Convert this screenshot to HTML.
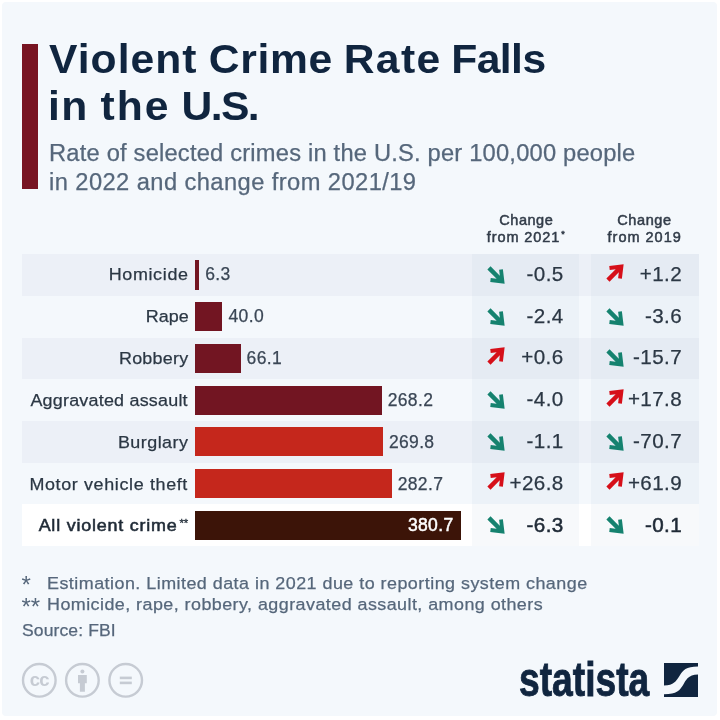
<!DOCTYPE html>
<html lang="en">
<head>
<meta charset="utf-8">
<title>Violent Crime Rate Falls in the U.S.</title>
<style>
html,body{margin:0;padding:0;background:#fff;}
body{width:720px;height:720px;position:relative;overflow:hidden;font-family:"Liberation Sans",sans-serif;}
#card{position:absolute;left:2px;top:2px;width:715px;height:714px;background:#f4f8fc;border-radius:4px;}
.abs{position:absolute;}
.t{position:absolute;white-space:nowrap;line-height:1;}
#accent{left:21.8px;top:44px;width:16.2px;height:145px;background:#781422;}
.title{font-weight:bold;color:#10253f;}
.sub{color:#56677b;-webkit-text-stroke:0.25px #56677b;}
.stripe{position:absolute;left:22px;width:677px;background:#ecf0f7;}
.white{background:#fff;}
.col{position:absolute;top:254.2px;height:291.9px;background:rgba(144,164,201,0.07);}
.hdr{color:#323c49;-webkit-text-stroke:0.5px #323c49;}
.sup{font-size:9px;position:relative;top:-5px;letter-spacing:0;margin-left:1px;}
.sup2{font-size:11px;position:relative;top:-4.5px;letter-spacing:0;margin-left:2px;-webkit-text-stroke:0.3px #1f2a36;}
.lbl{color:#2b3744;-webkit-text-stroke:0.25px #2b3744;}
.bar{position:absolute;left:194.7px;height:29.2px;}
.dk{background:#721522;}
.rd{background:#c5271c;}
.br{background:#3c1408;}
.val{color:#3a4655;-webkit-text-stroke:0.25px #3a4655;}
.chg{color:#2b3744;-webkit-text-stroke:0.25px #2b3744;}
.note{color:#56677b;-webkit-text-stroke:0.25px #56677b;}
.ar{position:absolute;overflow:visible;}
.b{color:#1f2a36;-webkit-text-stroke:0.55px #1f2a36;}
.b.w{color:#fff;-webkit-text-stroke:0.5px #fff;}
#logo{left:518.5px;top:656px;font-size:48px;font-weight:bold;color:#10253f;transform-origin:0 0;transform:scaleX(0.775);letter-spacing:0;-webkit-text-stroke:0.9px #10253f;}
</style>
</head>
<body>
<div id="card"></div>
<div id="accent" class="abs"></div>
<div class="stripe" style="top:254.20px;height:41.70px;"></div>
<div class="stripe" style="top:337.60px;height:41.70px;"></div>
<div class="stripe" style="top:421.00px;height:41.70px;"></div>
<div class="stripe white" style="top:504.40px;height:41.70px;"></div>
<div class="col" style="left:471.5px;width:107px;"></div>
<div class="col" style="left:590.5px;width:108.5px;"></div>
<div id="b1" class="bar dk" style="top:260.45px;width:4.5px;"></div>
<div id="b2" class="bar dk" style="top:302.15px;width:27.8px;"></div>
<div id="b3" class="bar dk" style="top:343.85px;width:45.9px;"></div>
<div id="b4" class="bar dk" style="top:385.55px;width:187px;"></div>
<div id="b5" class="bar rd" style="top:427.25px;width:188.2px;"></div>
<div id="b6" class="bar rd" style="top:468.95px;width:197px;"></div>
<div id="b7" class="bar br" style="top:510.65px;width:266px;"></div>
<div id="tl1" class="t title" style="left:48.8px;top:38.99px;font-size:41px;transform:scaleX(1.04);transform-origin:0 0;"><span id="tl1w0" style="letter-spacing:0.985px;margin-left:0.00px;">Violent</span> <span id="tl1w1" style="letter-spacing:0.616px;margin-left:-0.58px;">Crime</span> <span id="tl1w2" style="letter-spacing:1.357px;margin-left:-1.06px;">Rate</span> <span id="tl1w3" style="letter-spacing:-0.543px;margin-left:-2.31px;">Falls</span></div>
<div id="tl2" class="t title" style="left:47.8px;top:86.09px;font-size:41px;transform:scaleX(1.04);transform-origin:0 0;"><span id="tl2w0" style="letter-spacing:1.462px;margin-left:0.00px;">in</span> <span id="tl2w1" style="letter-spacing:1.974px;margin-left:-0.42px;">the</span> <span id="tl2w2" style="letter-spacing:-1.534px;margin-left:-0.92px;">U.S.</span></div>
<div id="s1" class="t sub" style="left:48.52px;top:142.43px;font-size:23px;letter-spacing:0.197px;transform:scaleX(1.03);transform-origin:0 0;">Rate of selected crimes in the U.S. per 100,000 people</div>
<div id="s2" class="t sub" style="left:48.82px;top:171.03px;font-size:23px;letter-spacing:0.411px;transform:scaleX(1.03);transform-origin:0 0;">in 2022 and change from 2021/19</div>
<div id="h1a" class="t hdr" style="left:499.25px;top:212.73px;font-size:14.5px;letter-spacing:0.552px;">Change</div>
<div id="h1b" class="t hdr" style="left:486.83px;top:229.73px;font-size:14.5px;letter-spacing:0.902px;">from 2021<span class="sup">*</span></div>
<div id="h2a" class="t hdr" style="left:617.22px;top:212.73px;font-size:14.5px;letter-spacing:0.61px;">Change</div>
<div id="h2b" class="t hdr" style="left:607.57px;top:229.73px;font-size:14.5px;letter-spacing:0.987px;">from 2019</div>
<div id="l1" class="t lbl" style="right:530.92px;top:266.37px;font-size:17.4px;letter-spacing:0.644px;transform:scaleX(1.03);transform-origin:100% 0;">Homicide</div>
<div id="v1" class="t val" style="left:205.2px;top:266.29px;font-size:17.5px;letter-spacing:0.35px;">6.3</div>
<div id="c1t1" class="t chg" style="right:156.39999999999998px;top:263.76px;font-size:20.6px;letter-spacing:0.4px;">-0.5</div>
<div id="c2t1" class="t chg" style="right:38.0px;top:263.76px;font-size:20.6px;letter-spacing:0.4px;">+1.2</div>
<div id="l2" class="t lbl" style="right:531.28px;top:308.22px;font-size:17.4px;letter-spacing:0.056px;transform:scaleX(1.03);transform-origin:100% 0;">Rape</div>
<div id="v2" class="t val" style="left:228.5px;top:308.14px;font-size:17.5px;letter-spacing:0.35px;">40.0</div>
<div id="c1t2" class="t chg" style="right:156.39999999999998px;top:305.61px;font-size:20.6px;letter-spacing:0.4px;">-2.4</div>
<div id="c2t2" class="t chg" style="right:38.0px;top:305.61px;font-size:20.6px;letter-spacing:0.4px;">-3.6</div>
<div id="l3" class="t lbl" style="right:531.64px;top:350.07px;font-size:17.4px;letter-spacing:0.24px;transform:scaleX(1.03);transform-origin:100% 0;">Robbery</div>
<div id="v3" class="t val" style="left:246.6px;top:349.99px;font-size:17.5px;letter-spacing:0.35px;">66.1</div>
<div id="c1t3" class="t chg" style="right:156.39999999999998px;top:347.46px;font-size:20.6px;letter-spacing:0.4px;">+0.6</div>
<div id="c2t3" class="t chg" style="right:38.0px;top:347.46px;font-size:20.6px;letter-spacing:0.4px;">-15.7</div>
<div id="l4" class="t lbl" style="right:532.02px;top:391.92px;font-size:17.4px;letter-spacing:0.217px;transform:scaleX(1.03);transform-origin:100% 0;">Aggravated assault</div>
<div id="v4" class="t val" style="left:387.7px;top:391.84px;font-size:17.5px;letter-spacing:0.35px;">268.2</div>
<div id="c1t4" class="t chg" style="right:156.39999999999998px;top:389.31px;font-size:20.6px;letter-spacing:0.4px;">-4.0</div>
<div id="c2t4" class="t chg" style="right:38.0px;top:389.31px;font-size:20.6px;letter-spacing:0.4px;">+17.8</div>
<div id="l5" class="t lbl" style="right:531.52px;top:433.77px;font-size:17.4px;letter-spacing:0.457px;transform:scaleX(1.03);transform-origin:100% 0;">Burglary</div>
<div id="v5" class="t val" style="left:388.9px;top:433.69px;font-size:17.5px;letter-spacing:0.35px;">269.8</div>
<div id="c1t5" class="t chg" style="right:156.39999999999998px;top:431.16px;font-size:20.6px;letter-spacing:0.4px;">-1.1</div>
<div id="c2t5" class="t chg" style="right:38.0px;top:431.16px;font-size:20.6px;letter-spacing:0.4px;">-70.7</div>
<div id="l6" class="t lbl" style="right:531.7px;top:475.62px;font-size:17.4px;letter-spacing:0.626px;transform:scaleX(1.03);transform-origin:100% 0;">Motor vehicle theft</div>
<div id="v6" class="t val" style="left:397.7px;top:475.54px;font-size:17.5px;letter-spacing:0.35px;">282.7</div>
<div id="c1t6" class="t chg" style="right:156.39999999999998px;top:473.01px;font-size:20.6px;letter-spacing:0.4px;">+26.8</div>
<div id="c2t6" class="t chg" style="right:38.0px;top:473.01px;font-size:20.6px;letter-spacing:0.4px;">+61.9</div>
<div id="l7" class="t lbl b" style="right:531.5699999999999px;top:517.47px;font-size:17.4px;letter-spacing:0.761px;transform:scaleX(1.03);transform-origin:100% 0;">All violent crime<span class="sup2">**</span></div>
<div id="v7" class="t val b w" style="right:266.5px;top:517.39px;font-size:17.5px;letter-spacing:0.35px;">380.7</div>
<div id="c1t7" class="t chg b" style="right:156.39999999999998px;top:514.86px;font-size:20.6px;letter-spacing:0.4px;">-6.3</div>
<div id="c2t7" class="t chg b" style="right:38.0px;top:514.86px;font-size:20.6px;letter-spacing:0.4px;">-0.1</div>
<div id="n1s" class="t note" style="left:21.5px;top:573.48px;font-size:24px;-webkit-text-stroke:0;">*</div>
<div id="n1" class="t note" style="left:46.8px;top:574.77px;font-size:17.4px;letter-spacing:0.459px;transform:scaleX(1.03);transform-origin:0 0;">Estimation. Limited data in 2021 due to reporting system change</div>
<div id="n2s" class="t note" style="left:21.5px;top:594.58px;font-size:24px;-webkit-text-stroke:0;">**</div>
<div id="n2" class="t note" style="left:46.8px;top:595.77px;font-size:17.4px;letter-spacing:0.434px;transform:scaleX(1.03);transform-origin:0 0;">Homicide, rape, robbery, aggravated assault, among others</div>
<div id="n3" class="t note" style="left:21.73px;top:621.81px;font-size:17px;letter-spacing:0.113px;transform:scaleX(1.03);transform-origin:0 0;">Source: FBI</div>
<svg class="ar" style="left:485.70px;top:265.05px;" width="20" height="20" viewBox="-10 -10 20 20"><polygon points="-5.46,-8.64 3.83,0.65 3.11,-5.28 6.88,-5.75 8.64,8.64 -5.75,6.88 -5.28,3.11 0.65,3.83 -8.64,-5.46" fill="#15826f"/></svg>
<svg class="ar" style="left:604.60px;top:262.55px;" width="20" height="20" viewBox="-10 -10 20 20"><polygon points="-8.64,5.46 0.65,-3.83 -5.28,-3.11 -5.75,-6.88 8.64,-8.64 6.88,5.75 3.11,5.28 3.83,-0.65 -5.46,8.64" fill="#d60f19"/></svg>
<svg class="ar" style="left:485.70px;top:306.75px;" width="20" height="20" viewBox="-10 -10 20 20"><polygon points="-5.46,-8.64 3.83,0.65 3.11,-5.28 6.88,-5.75 8.64,8.64 -5.75,6.88 -5.28,3.11 0.65,3.83 -8.64,-5.46" fill="#15826f"/></svg>
<svg class="ar" style="left:604.60px;top:306.75px;" width="20" height="20" viewBox="-10 -10 20 20"><polygon points="-5.46,-8.64 3.83,0.65 3.11,-5.28 6.88,-5.75 8.64,8.64 -5.75,6.88 -5.28,3.11 0.65,3.83 -8.64,-5.46" fill="#15826f"/></svg>
<svg class="ar" style="left:485.70px;top:345.95px;" width="20" height="20" viewBox="-10 -10 20 20"><polygon points="-8.64,5.46 0.65,-3.83 -5.28,-3.11 -5.75,-6.88 8.64,-8.64 6.88,5.75 3.11,5.28 3.83,-0.65 -5.46,8.64" fill="#d60f19"/></svg>
<svg class="ar" style="left:604.60px;top:348.45px;" width="20" height="20" viewBox="-10 -10 20 20"><polygon points="-5.46,-8.64 3.83,0.65 3.11,-5.28 6.88,-5.75 8.64,8.64 -5.75,6.88 -5.28,3.11 0.65,3.83 -8.64,-5.46" fill="#15826f"/></svg>
<svg class="ar" style="left:485.70px;top:390.15px;" width="20" height="20" viewBox="-10 -10 20 20"><polygon points="-5.46,-8.64 3.83,0.65 3.11,-5.28 6.88,-5.75 8.64,8.64 -5.75,6.88 -5.28,3.11 0.65,3.83 -8.64,-5.46" fill="#15826f"/></svg>
<svg class="ar" style="left:604.60px;top:387.65px;" width="20" height="20" viewBox="-10 -10 20 20"><polygon points="-8.64,5.46 0.65,-3.83 -5.28,-3.11 -5.75,-6.88 8.64,-8.64 6.88,5.75 3.11,5.28 3.83,-0.65 -5.46,8.64" fill="#d60f19"/></svg>
<svg class="ar" style="left:485.70px;top:431.85px;" width="20" height="20" viewBox="-10 -10 20 20"><polygon points="-5.46,-8.64 3.83,0.65 3.11,-5.28 6.88,-5.75 8.64,8.64 -5.75,6.88 -5.28,3.11 0.65,3.83 -8.64,-5.46" fill="#15826f"/></svg>
<svg class="ar" style="left:604.60px;top:431.85px;" width="20" height="20" viewBox="-10 -10 20 20"><polygon points="-5.46,-8.64 3.83,0.65 3.11,-5.28 6.88,-5.75 8.64,8.64 -5.75,6.88 -5.28,3.11 0.65,3.83 -8.64,-5.46" fill="#15826f"/></svg>
<svg class="ar" style="left:485.70px;top:471.05px;" width="20" height="20" viewBox="-10 -10 20 20"><polygon points="-8.64,5.46 0.65,-3.83 -5.28,-3.11 -5.75,-6.88 8.64,-8.64 6.88,5.75 3.11,5.28 3.83,-0.65 -5.46,8.64" fill="#d60f19"/></svg>
<svg class="ar" style="left:604.60px;top:471.05px;" width="20" height="20" viewBox="-10 -10 20 20"><polygon points="-8.64,5.46 0.65,-3.83 -5.28,-3.11 -5.75,-6.88 8.64,-8.64 6.88,5.75 3.11,5.28 3.83,-0.65 -5.46,8.64" fill="#d60f19"/></svg>
<svg class="ar" style="left:485.70px;top:515.25px;" width="20" height="20" viewBox="-10 -10 20 20"><polygon points="-5.46,-8.64 3.83,0.65 3.11,-5.28 6.88,-5.75 8.64,8.64 -5.75,6.88 -5.28,3.11 0.65,3.83 -8.64,-5.46" fill="#15826f"/></svg>
<svg class="ar" style="left:604.60px;top:515.25px;" width="20" height="20" viewBox="-10 -10 20 20"><polygon points="-5.46,-8.64 3.83,0.65 3.11,-5.28 6.88,-5.75 8.64,8.64 -5.75,6.88 -5.28,3.11 0.65,3.83 -8.64,-5.46" fill="#15826f"/></svg>

<!-- CC icons -->
<svg class="abs" style="left:18px;top:660px;" width="130" height="40" viewBox="18 660 130 40">
<g fill="none" stroke="#c6cbd3" stroke-width="2.4">
<circle cx="39.3" cy="680.3" r="16.3"/>
<circle cx="82.4" cy="680.3" r="16.3"/>
<circle cx="125.7" cy="680.3" r="16.3"/>
</g>
<g fill="#c6cbd3">
<text x="39.3" y="686" text-anchor="middle" font-family="Liberation Sans, sans-serif" font-weight="bold" font-size="18.5" letter-spacing="-0.8">cc</text>
<circle cx="82.4" cy="671.6" r="2"/>
<path d="M78 675h8.8v8.2h-1.9v8.6h-5v-8.6H78z"/>
<rect x="119.8" y="676.6" width="12" height="2.6"/>
<rect x="119.8" y="681.6" width="12" height="2.6"/>
</g>
</svg>

<div id="logo" class="t">statista</div>
<svg class="abs" style="left:663.7px;top:663px;" width="34.7" height="34.4" viewBox="0 0 34.7 34.4">
<rect width="34.7" height="34.4" fill="#10253f"/>
<path d="M0,22.6 C10,22.6 12,18 15.6,12.8 C19,7 22,3.5 34.7,3.5 L34.7,11.4 C24,11.4 22,17 19.1,21.9 C16,27 13,31.2 0,31.2 Z" fill="#f4f8fc"/>
</svg>
</body>
</html>
